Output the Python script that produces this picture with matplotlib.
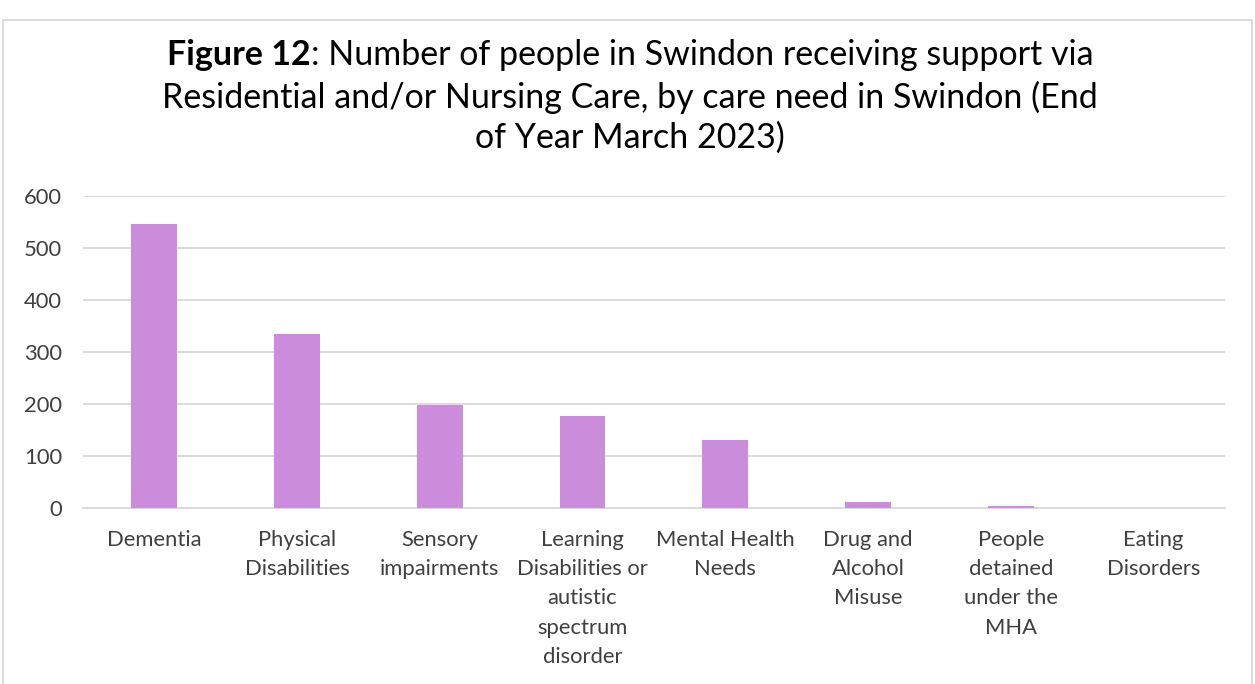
import matplotlib
matplotlib.use("Agg")
import matplotlib.pyplot as plt
from matplotlib.patches import Rectangle

plt.rcParams['font.family'] = ['Lato', 'DejaVu Sans']

categories = [
    "Dementia",
    "Physical\nDisabilities",
    "Sensory\nimpairments",
    "Learning\nDisabilities or\nautistic\nspectrum\ndisorder",
    "Mental Health\nNeeds",
    "Drug and\nAlcohol\nMisuse",
    "People\ndetained\nunder the\nMHA",
    "Eating\nDisorders",
]
people = [546, 335, 199, 177, 131, 11, 3, 0]
y_ticks = [0, 100, 200, 300, 400, 500, 600]

bar_color = "#CB8CDB"
grid_color = "#D9D9D9"
text_color = "#404040"

fig = plt.figure(figsize=(12.55, 6.84), dpi=100)
ax = fig.add_axes([0.066, 0.2573, 0.910, 0.4562])

x = range(len(categories))
ax.bar(x, people, width=0.32, color=bar_color, zorder=3)

ax.set_xlim(-0.5, len(categories) - 0.5)
ax.set_ylim(0, 600)
ax.set_yticks(y_ticks)
ax.set_xticks(list(x))
ax.set_xticklabels(categories, fontsize=15.8, color=text_color, linespacing=1.57)
ax.tick_params(axis='y', length=0, pad=15, labelsize=15.8, labelcolor=text_color)
ax.tick_params(axis='x', length=0, pad=16)
ax.grid(axis='y', color=grid_color, linewidth=1.3, zorder=0)
for side in ["top", "right", "left"]:
    ax.spines[side].set_visible(False)
ax.spines["bottom"].set_color(grid_color)
ax.spines["bottom"].set_linewidth(1.3)

# outer chart border
fig.patches.append(Rectangle((0.002, -0.01), 0.996, 1 - 0.01 - 6 / 684, transform=fig.transFigure,
                             fill=False, edgecolor="#D9D9D9", linewidth=1.3))

# title: bold figure number followed by regular text on the first line
title_size = 24.5
first_bold = "Figure 12"
first_rest = ": Number of people in Swindon receiving support via"
y1 = 1 - 55 / 684
renderer = fig.canvas.get_renderer()
tb = fig.text(0, y1, first_bold, fontsize=title_size, fontweight='bold', color="black", va='center')
tr = fig.text(0, y1, first_rest, fontsize=title_size, color="black", va='center')
wb = tb.get_window_extent(renderer).width / fig.bbox.width
wr = tr.get_window_extent(renderer).width / fig.bbox.width
x0 = 0.502 - (wb + wr) / 2
tb.set_x(x0)
tr.set_x(x0 + wb)
fig.text(0.502, 1 - 97 / 684, "Residential and/or Nursing Care, by care need in Swindon (End",
         fontsize=title_size, color="black", ha='center', va='center')
fig.text(0.502, 1 - 138 / 684, "of Year March 2023)",
         fontsize=title_size, color="black", ha='center', va='center')

fig.savefig("out.png", dpi=100)
